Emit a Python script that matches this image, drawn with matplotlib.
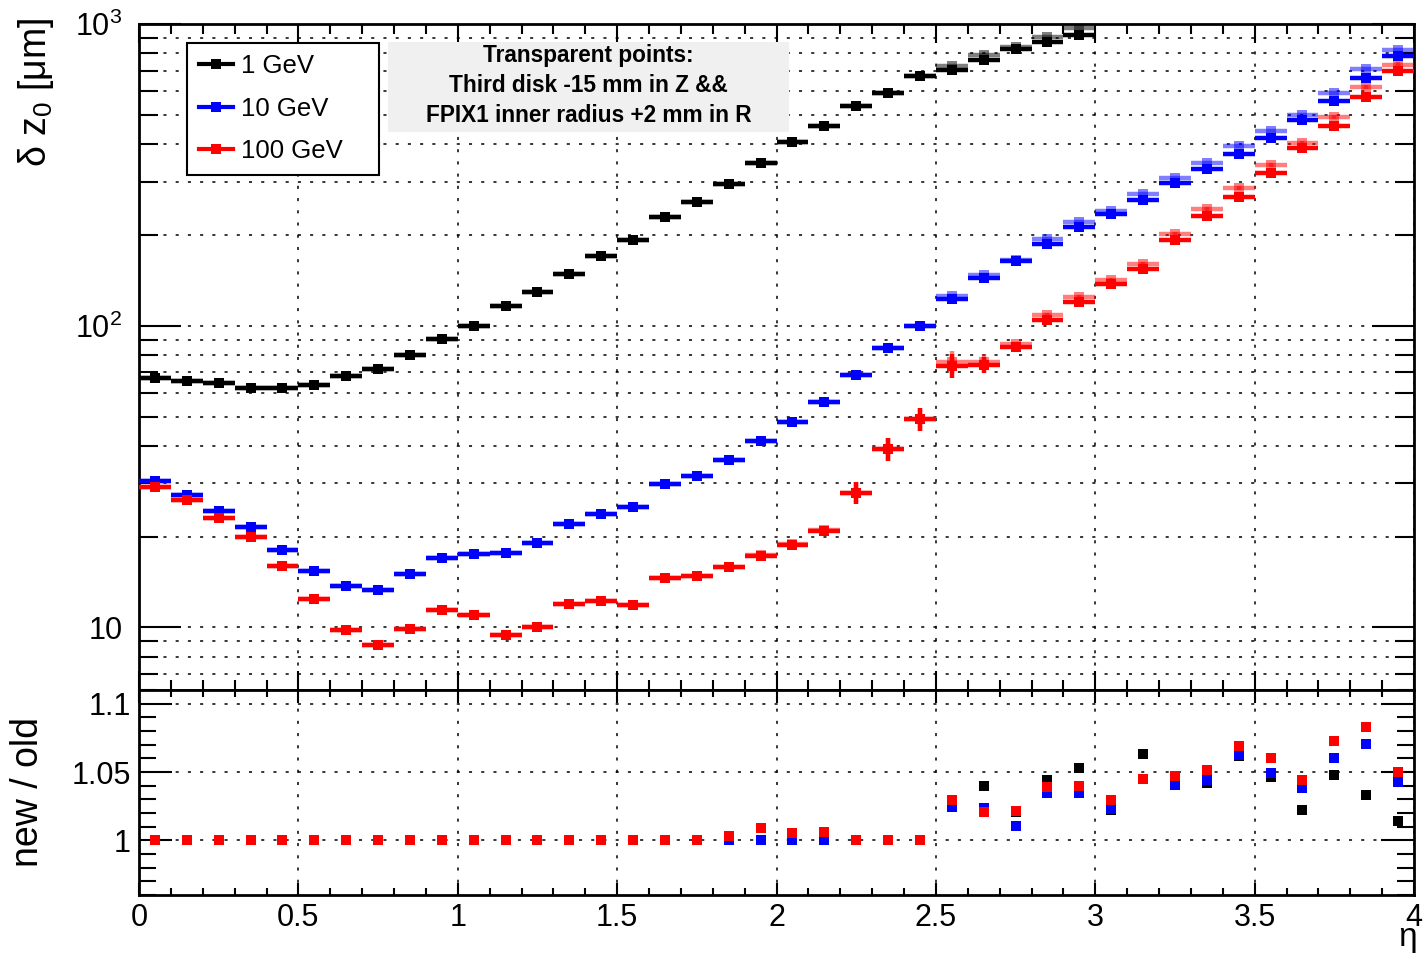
import numpy as np
import matplotlib
matplotlib.use("Agg")
import matplotlib.pyplot as plt
from matplotlib.lines import Line2D
from matplotlib.patches import Rectangle
from matplotlib.ticker import FixedLocator, LogLocator, NullFormatter, MultipleLocator, FuncFormatter

plt.rcParams['font.family'] = ['Liberation Sans', 'DejaVu Sans']
plt.rcParams['mathtext.fontset'] = 'custom'
plt.rcParams['mathtext.rm'] = 'Liberation Sans'
plt.rcParams['mathtext.it'] = 'Liberation Sans:italic'

# eta bin centres (bin width 0.1)
eta = [0.05, 0.15, 0.25, 0.35, 0.45, 0.55, 0.65, 0.75, 0.85, 0.95,
       1.05, 1.15, 1.25, 1.35, 1.45, 1.55, 1.65, 1.75, 1.85, 1.95,
       2.05, 2.15, 2.25, 2.35, 2.45, 2.55, 2.65, 2.75, 2.85, 2.95,
       3.05, 3.15, 3.25, 3.35, 3.45, 3.55, 3.65, 3.75, 3.85, 3.95]

nan = float('nan')
# resolution of the old geometry [um]
dz_1gev = [66.9, 65.7, 64.7, 62.4, 62.3, 63.6, 68.1, 71.7, 80.2, 90.5,
           100.0, 116.6, 129.0, 148.6, 170.2, 192.9, 230.0, 257.7, 295.8, 346.7,
           407.0, 461.0, 533.0, 593.0, 675.0, 706.0, 761.0, 825.0, 870.0, 923.0,
           nan, nan, nan, nan, nan, nan, nan, nan, nan, nan]
dz_10gev = [30.5, 27.5, 24.4, 21.5, 18.1, 15.4, 13.7, 13.3, 15.0, 17.0,
            17.5, 17.7, 19.0, 22.1, 23.7, 25.0, 29.9, 31.8, 36.0, 41.6,
            48.1, 55.7, 68.7, 84.1, 100.0, 122.4, 143.6, 163.7, 187.3, 212.7,
            235.5, 261.7, 297.5, 331.0, 371.5, 420.0, 479.7, 556.0, 660.7, 784.0]
dz_100gev = [29.3, 26.5, 23.0, 20.0, 16.0, 12.4, 9.77, 8.75, 9.89, 11.45,
             11.0, 9.45, 10.0, 12.0, 12.2, 11.9, 14.6, 14.8, 15.85, 17.2,
             18.8, 20.9, 28.0, 39.1, 49.2, 73.8, 74.3, 84.9, 104.1, 119.7,
             137.6, 153.7, 192.4, 231.4, 267.7, 322.0, 387.0, 459.0, 571.0, 699.0]
err_100gev = [0.3, 0.3, 0.3, 0.3, 0.2, 0.2, 0.2, 0.2, 0.2, 0.2,
              0.2, 0.2, 0.2, 0.2, 0.2, 0.2, 0.3, 0.3, 0.3, 0.3,
              0.4, 0.5, 2.3, 3.4, 4.3, 6.5, 4.6, 1.5, 1.8, 2.0,
              2.0, 2.5, 3.0, 4.0, 5.0, 6.0, 7.0, 8.0, 10.0, 12.0]

# new / old
ratio_1gev = [1.0] * 25 + [1.026, 1.040, 1.021, 1.0445, 1.0533,
                           1.022, 1.063, 1.042, 1.042, 1.062,
                           1.0465, 1.0225, 1.0475, 1.0333, 1.0142]
ratio_10gev = [1.0] * 25 + [1.0245, 1.024, 1.0108, 1.0347, 1.0347,
                            1.0232, 1.045, 1.0406, 1.0438, 1.0626,
                            1.0494, 1.038, 1.0606, 1.0702, 1.0428]
ratio_100gev = [1.0] * 18 + [1.003, 1.009, 1.005, 1.006, 1.0, 1.0, 1.0,
                             1.0293, 1.021, 1.0213, 1.039, 1.0396,
                             1.0298, 1.0452, 1.0472, 1.0513, 1.0694,
                             1.0601, 1.044, 1.0729, 1.0831, 1.0501]

labels = ["1 GeV", "10 GeV", "100 GeV"]
colors = ["black", "blue", "red"]

fig = plt.figure(figsize=(14.26, 9.58), dpi=100)
ax = fig.add_axes([0.0975, 0.2797, 0.8941, 0.6952])
rax = fig.add_axes([0.0975, 0.0658, 0.8941, 0.2139])

grid_kw = dict(color="black", linestyle=(0, (2, 6)), linewidth=1.1)

series = [(dz_1gev, None, ratio_1gev), (dz_10gev, None, ratio_10gev),
          (dz_100gev, err_100gev, ratio_100gev)]
for (old, err, ratio), col in zip(series, colors):
    old = np.array(old)
    new = old * np.array(ratio)
    # transparent = new geometry, solid = old geometry
    ax.errorbar(eta, new, xerr=0.05, yerr=err, fmt="s", color=col, ms=7.2, mew=0,
                elinewidth=3.2, capsize=0, alpha=0.5, zorder=3)
    ax.errorbar(eta, old, xerr=0.05, yerr=err, fmt="s", color=col, ms=7.2, mew=0,
                elinewidth=3.2, capsize=0, zorder=4)
    rax.plot(eta, ratio, "s", color=col, ms=6.5, mew=0, zorder=4)

# upper pad
ax.set_xlim(0, 4)
ax.set_yscale("log")
ax.set_ylim(6.2, 1000)
ax.yaxis.set_major_locator(FixedLocator([10, 100, 1000]))
ax.yaxis.set_minor_locator(LogLocator(base=10, subs=np.arange(2, 10)))
ax.yaxis.set_major_formatter(FuncFormatter(
    lambda v, p: {10: "10", 100: "$10^2$", 1000: "$10^3$"}.get(int(round(v)), "")))
ax.yaxis.set_minor_formatter(NullFormatter())
ax.xaxis.set_major_locator(MultipleLocator(0.5))
ax.xaxis.set_minor_locator(MultipleLocator(0.1))
ax.tick_params(axis="x", which="major", direction="in", length=14, width=1.5,
               top=True, bottom=True, labelbottom=False)
ax.tick_params(axis="x", which="minor", direction="in", length=7, width=1.5,
               top=True, bottom=True)
ax.tick_params(axis="y", which="major", direction="in", length=30, width=1.5,
               left=True, right=True, labelsize=22, pad=12)
ax.tick_params(axis="y", which="minor", direction="in", length=14, width=1.5,
               left=True, right=True)
ax.grid(True, axis="y", which="both", **grid_kw)
ax.grid(True, axis="x", which="major", **grid_kw)
ax.set_axisbelow(True)

# lower pad
rax.set_xlim(0, 4)
rax.set_ylim(0.96, 1.11)
rax.yaxis.set_major_locator(FixedLocator([1.0, 1.05, 1.1]))
rax.yaxis.set_minor_locator(MultipleLocator(0.01))
rax.yaxis.set_major_formatter(FuncFormatter(lambda v, p: "%g" % round(v, 2)))
rax.xaxis.set_major_locator(MultipleLocator(0.5))
rax.xaxis.set_minor_locator(MultipleLocator(0.1))
rax.xaxis.set_major_formatter(FuncFormatter(lambda v, p: "%g" % v))
rax.tick_params(axis="x", which="major", direction="in", length=9, width=1.5,
                top=True, bottom=True, labelsize=22, pad=6)
rax.tick_params(axis="x", which="minor", direction="in", length=5, width=1.5,
                top=True, bottom=True)
rax.tick_params(axis="y", which="major", direction="in", length=24, width=1.5,
                left=True, right=True, labelsize=22, pad=6)
rax.tick_params(axis="y", which="minor", direction="in", length=12, width=1.5,
                left=True, right=True)
rax.grid(True, axis="both", which="major", **grid_kw)
rax.set_axisbelow(True)

for a in (ax, rax):
    for s in a.spines.values():
        s.set_linewidth(2.0)

# legend
handles = [Line2D([], [], color=c, marker="s", ms=7, mew=0, lw=3) for c in colors]
leg = ax.legend(handles, labels, loc="upper left",
                bbox_to_anchor=(0.0376, 0.972, 0.1506, 0.0), mode="expand",
                fontsize=18.5, frameon=True, fancybox=False, framealpha=1,
                edgecolor="black", handlelength=1.35, handletextpad=0.3,
                labelspacing=0.72, borderpad=0.45, borderaxespad=0)
leg.get_frame().set_linewidth(1.5)
leg.set_zorder(6)

# info box
ax.add_patch(Rectangle((0.1953, 0.838), 0.3145, 0.135, transform=ax.transAxes,
                       facecolor="#f0f0f0", edgecolor="none", zorder=5))
for yy, line in zip([0.9535, 0.907, 0.862],
                    ["Transparent points:", "Third disk -15 mm in Z &&",
                     "FPIX1 inner radius +2 mm in R"]):
    ax.text(0.3525, yy, line, transform=ax.transAxes, ha="center", va="center",
            fontsize=16.3, fontweight="bold", zorder=6)

# axis titles
fig.text(36 / 1426, 1 - 18 / 958, r"δ z$_0$ [μm]", rotation=90, ha="center",
         va="top", fontsize=27)
fig.text(28 / 1426, 1 - 792 / 958, "new / old", rotation=90, ha="center",
         va="center", fontsize=27)
fig.text(1417 / 1426, 1 - 946 / 958, "η", ha="right", va="baseline", fontsize=24)

fig.savefig("out.png", dpi=100)
